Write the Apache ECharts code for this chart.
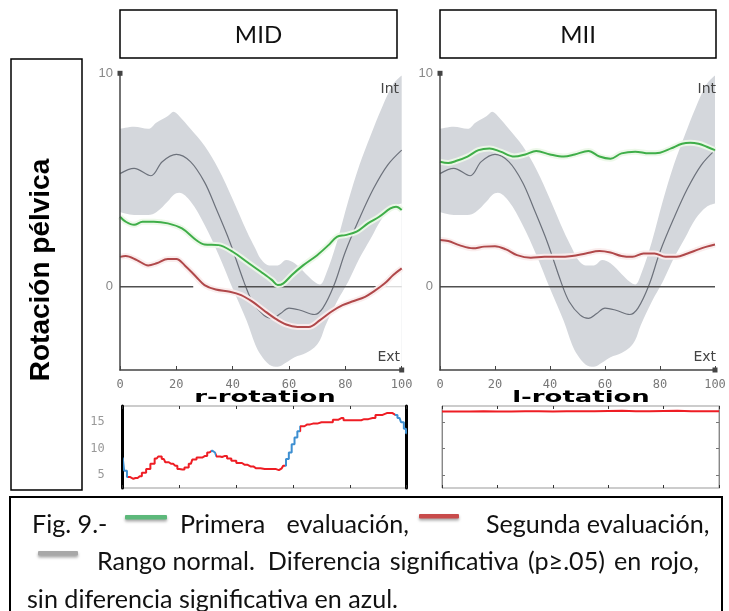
<!DOCTYPE html>
<html><head><meta charset="utf-8">
<script src="https://cdn.jsdelivr.net/npm/echarts@6/dist/echarts.min.js"></script>
<style>html,body{margin:0;padding:0;background:#fff}#c{width:729px;height:611px}</style>
</head><body><div id="c"></div>
<script>
// ---------- text ----------
const panelTitles = ['MID', 'MII'];
const rowLabel = 'Rotación pélvica';
const subTitles = ['r-rotation', 'l-rotation'];
const intLabel = 'Int', extLabel = 'Ext';
const captionFig = 'Fig. 9.-';
const captionPrimera = 'Primera evaluación,';
const captionSegunda = 'Segunda evaluación,';
const captionRango = 'Rango normal.';
const captionDif = 'Diferencia significativa (p≥.05) en rojo,';
const captionLast = 'sin diferencia significativa en azul.';

// ---------- axes ----------
const xTickStep = 20;
const topYLabels = [0, 10];
const botYLabels = [5, 10, 15];

// ---------- normal range (same for both sides) ----------
const normX     = [0, 5, 10, 13, 17, 19, 21, 25, 30, 35, 40, 45, 48, 50, 53, 56, 59, 62, 66, 69, 71, 73, 77, 81, 85, 89, 93, 97, 100];
const normUpper = [7.4, 7.5, 7.4, 7.7, 8.0, 8.2, 8.0, 7.4, 6.6, 5.5, 4.1, 2.6, 1.8, 1.3, 1.0, 1.0, 1.25, 1.1, 0.6, 0.23, 0.1, 0.55, 2.1, 4.0, 5.7, 7.1, 8.4, 9.5, 9.9];
const normLower = [3.5, 3.36, 3.36, 3.5, 4.0, 4.3, 4.4, 4.0, 2.9, 1.5, -0.08, -1.6, -2.7, -3.2, -3.65, -3.75, -3.55, -3.3, -3.1, -2.85, -2.5, -1.8, -0.7, 0.23, 1.33, 2.26, 3.2, 3.75, 3.9];
const meanX = [0, 5, 11, 15, 20, 25, 30, 34, 39, 44, 47, 51, 54, 57, 60, 64, 69, 72, 76, 80, 85, 90, 95, 100];
const meanY = [5.3, 5.55, 5.2, 5.86, 6.2, 5.86, 4.9, 3.7, 2.1, 0.23, -0.7, -1.33, -1.48, -1.25, -1.0, -1.1, -1.3, -1.0, 0.08, 1.64, 3.2, 4.6, 5.7, 6.4];

// ---------- MID ----------
const midGreenX = [0, 2, 5, 8, 12, 17, 22, 27, 30, 35, 40, 45, 50, 54, 56, 58, 61, 65, 70, 74, 77, 80, 84, 88, 92, 96, 98, 100];
const midGreenY = [3.28, 3.05, 2.9, 3.05, 3.05, 2.97, 2.73, 2.19, 1.98, 1.95, 1.64, 1.17, 0.7, 0.31, 0.08, 0.16, 0.55, 1.0, 1.48, 1.95, 2.34, 2.42, 2.58, 2.97, 3.28, 3.67, 3.75, 3.6];
const midRedX = [0, 2, 6, 10, 13, 17, 20, 23, 27, 30, 34, 39, 43, 47, 51, 55, 59, 63, 67, 71, 75, 79, 83, 87, 90, 94, 97, 100];
const midRedY = [1.4, 1.44, 1.25, 1.0, 1.1, 1.3, 1.3, 1.0, 0.47, 0.08, -0.13, -0.23, -0.39, -0.7, -1.1, -1.48, -1.77, -1.88, -1.88, -1.56, -1.17, -0.86, -0.67, -0.47, -0.23, 0.16, 0.55, 0.86];
const midZeroX = [0, 26, 34, 42, 91];
const midZeroY = [0, 0, '-', 0, 0];
const midZeroFaintX = [91, 100];
const midZeroFaintY = [0, 0];

// ---------- MII ----------
const miiGreenX = [0, 3, 6, 10, 14, 18, 22, 27, 31, 35, 40, 45, 49, 54, 58, 62, 66, 71, 76, 80, 84, 88, 91, 94, 97, 100];
const miiGreenY = [5.86, 5.8, 5.9, 6.1, 6.4, 6.48, 6.33, 6.1, 6.2, 6.36, 6.2, 6.1, 6.2, 6.36, 6.1, 6.0, 6.25, 6.33, 6.25, 6.28, 6.48, 6.7, 6.75, 6.7, 6.56, 6.4];
const miiRedX = [0, 3, 7, 12, 16, 20, 24, 28, 33, 38, 43, 48, 53, 58, 62, 66, 70, 74, 78, 82, 86, 90, 94, 97, 100];
const miiRedY = [2.19, 2.14, 1.95, 1.8, 1.88, 1.9, 1.75, 1.48, 1.36, 1.4, 1.4, 1.44, 1.56, 1.67, 1.6, 1.44, 1.4, 1.56, 1.56, 1.4, 1.4, 1.56, 1.75, 1.88, 1.98];
const miiZeroX = [0, 100];
const miiZeroY = [0, 0];

// ---------- significance (bottom) ----------
const rRotX = [0, 1, 2, 3, 4.5, 6, 7.5, 9, 10.5, 12, 13, 14.5, 15.5, 17, 18.5, 20, 21, 22.5, 24, 25, 27, 29, 30.5, 31.5, 32.5, 33.5, 35, 36, 37.5, 39, 41, 43, 45, 47, 50, 53, 55, 56, 57, 58, 59, 60, 61, 62, 63, 65, 67, 70, 73, 75, 77, 78.5, 80, 83, 85, 88, 90, 93, 95, 96, 97.5, 98.5, 99.5, 100];
const rRotY = [8.3, 5.8, 4.6, 4.25, 4.4, 4.75, 5.4, 6.1, 7.1, 8.1, 8.5, 8.0, 7.4, 7.1, 6.75, 6.1, 6.0, 6.4, 7.1, 7.9, 8.3, 8.6, 9.25, 9.6, 9.25, 8.5, 8.4, 8.6, 8.1, 7.7, 7.25, 6.9, 6.6, 6.25, 6.1, 6.1, 5.9, 6.25, 6.75, 8.0, 9.25, 10.8, 12.1, 13.3, 14.25, 14.6, 14.75, 15.0, 15.0, 15.5, 15.8, 15.4, 15.4, 15.4, 15.6, 15.8, 16.4, 16.75, 16.75, 16.4, 15.8, 15.0, 13.75, 12.9];
const rBlueRanges = [[0, 2], [31, 33], [57, 62.5], [96, 100]];
const lRotX = [0, 5, 10, 15, 20, 25, 30, 35, 40, 45, 50, 55, 60, 65, 70, 75, 80, 85, 90, 95, 100];
const lRotY = [17.05, 17.05, 17.05, 17.1, 17.05, 17.05, 17.1, 17.1, 17.05, 17.1, 17.1, 17.1, 17.15, 17.2, 17.1, 17.1, 17.15, 17.2, 17.1, 17.1, 17.1];

// ---------- colours ----------
const C = {
  band: '#d4d7dc', mean: '#6c717b', zero: '#505050',
  green: '#3fae49', greenHalo: 'rgba(236,248,232,0.95)',
  red: '#b0484a', redHalo: 'rgba(250,236,236,0.95)',
  sigRed: '#ee1d24', sigBlue: '#3d8fd1', axis: '#444', tickLabel: '#777'
};

const zip = (xs, ys) => xs.map((x, i) => [x, ys[i]]);
const chart = echarts.init(document.getElementById('c'), null, { renderer: 'canvas' });

const grids = [
  { left: 120, top: 73.3, width: 281.7, height: 296.7 },
  { left: 440, top: 73.3, width: 275, height: 296.7 },
  { left: 122.7, top: 406, width: 284, height: 82, show: true, borderColor: '#999', borderWidth: 1 },
  { left: 442, top: 406, width: 277, height: 82, show: true, borderColor: '#999', borderWidth: 1 }
];

const topX = gi => ({
  type: 'value', gridIndex: gi, min: 0, max: 100, interval: xTickStep, position: 'bottom', z: 6,
  axisLine: { onZero: false, lineStyle: { color: C.axis, width: 1.5 }, symbol: ['none', 'rect'], symbolSize: [5, 5] },
  axisTick: { inside: true, length: 4, lineStyle: { color: C.axis } },
  axisLabel: { color: C.tickLabel, fontFamily: 'DejaVu Sans Mono', fontSize: 12, margin: 9 },
  splitLine: { show: false }
});
const topY = gi => ({
  type: 'value', gridIndex: gi, min: -3.9, max: 10, z: 6,
  axisLine: { show: true, onZero: false, lineStyle: { color: C.axis, width: 1.5 }, symbol: ['none', 'rect'], symbolSize: [5, 5] },
  axisTick: { show: false },
  axisLabel: { customValues: topYLabels, fontFamily: 'Liberation Sans', fontSize: 13, margin: 7,
    color: v => (v === 0 ? '#222' : '#888') },
  splitLine: { show: false }
});
const botX = (gi, pos) => ({
  type: 'value', gridIndex: gi, min: 0, max: 100, interval: xTickStep, position: pos,
  axisLine: { show: false, onZero: false },
  axisTick: { inside: true, length: 3, lineStyle: { color: '#333' } },
  axisLabel: { show: false }, splitLine: { show: false }
});
const botY = (gi, pos, thick, labels) => ({
  type: 'value', gridIndex: gi, min: 2.5, max: 18.1, position: pos,
  axisLine: { show: true, onZero: false, lineStyle: { color: thick ? '#000' : '#888', width: thick ? 3 : 1 } },
  axisTick: { show: !thick, inside: true, length: 3, customValues: botYLabels, lineStyle: { color: '#777' } },
  axisLabel: { show: labels, customValues: botYLabels, color: '#999', fontFamily: 'DejaVu Sans Mono', fontSize: 12, margin: 18 },
  splitLine: { show: false }
});

const xAxis = [topX(0), topX(1), botX(2, 'top'), botX(3, 'top'), botX(2, 'bottom'), botX(3, 'bottom')];
const yAxis = [topY(0), topY(1), botY(2, 'left', true, true), botY(3, 'left', false, false), botY(2, 'right', true, false), botY(3, 'right', false, false)];

const series = [];
const line = (gi, data, color, width, extra) => Object.assign({
  type: 'line', xAxisIndex: gi, yAxisIndex: gi, data, symbol: 'none', smooth: 0.35,
  lineStyle: { color, width }, itemStyle: { color }, silent: true, animation: false
}, extra || {});

const panels = [
  { gi: 0, gx: midGreenX, gy: midGreenY, rx: midRedX, ry: midRedY, zx: midZeroX, zy: midZeroY, faint: true },
  { gi: 1, gx: miiGreenX, gy: miiGreenY, rx: miiRedX, ry: miiRedY, zx: miiZeroX, zy: miiZeroY, faint: false }
];
panels.forEach(p => {
  const gi = p.gi;
  series.push(line(gi, zip(normX, normUpper), C.band, 0, { lineStyle: { opacity: 0 }, areaStyle: { color: C.band, opacity: 1, origin: 'start' } }));
  series.push(line(gi, zip(normX, normLower), '#fff', 0, { lineStyle: { opacity: 0 }, areaStyle: { color: '#fff', opacity: 1, origin: 'start' } }));
  series.push(line(gi, zip(meanX, meanY), C.mean, 1.2));
  series.push(line(gi, zip(p.zx, p.zy), C.zero, 1.5, { smooth: false, connectNulls: false }));
  if (p.faint) series.push(line(gi, zip(midZeroFaintX, midZeroFaintY), '#cfcfcf', 1.2, { smooth: false }));
  series.push(line(gi, zip(p.gx, p.gy), C.greenHalo, 6));
  series.push(line(gi, zip(p.rx, p.ry), C.redHalo, 6));
  series.push(line(gi, zip(p.gx, p.gy), C.green, 2));
  series.push(line(gi, zip(p.rx, p.ry), C.red, 2));
});
const rSeriesIndex = series.length;
series.push({ type: 'line', xAxisIndex: 2, yAxisIndex: 2, data: zip(rRotX, rRotY), symbol: 'none', step: 'middle',
  lineStyle: { width: 2 }, silent: true, animation: false });
series.push(line(3, zip(lRotX, lRotY), C.sigRed, 2, { smooth: false }));

const pieces = [];
let cur = 0;
rBlueRanges.forEach(([a, b]) => {
  if (a > cur) pieces.push({ gt: cur, lt: a, color: C.sigRed });
  pieces.push({ gte: a, lte: b, color: C.sigBlue });
  cur = b;
});
if (cur < 100) pieces.push({ gt: cur, lte: 100, color: C.sigRed });

// ---------- caption layout ----------
const ctx = document.createElement('canvas').getContext('2d');
const capFam = 'Lato';
const mw = (t, s) => { ctx.font = s + 'px ' + capFam; return ctx.measureText(t).width; };
const line2Natural = captionRango + '  ' + captionDif;
const capSize = +Math.min(20 * 387 / mw(captionLast, 20), 20 * 592 / mw(line2Natural, 20)).toFixed(2);
const capFont = capSize + 'px ' + capFam;

const txt = (text, x, y, font, fill, align, valign, extra) => Object.assign({
  type: 'text', x, y, silent: true, z: 100,
  style: { text, font, fill: fill || '#111', align: align || 'left', verticalAlign: valign || 'middle', textAlign: align || 'left', textVerticalAlign: valign || 'middle' }
}, extra || {});
const justify = (phrase, x0, x1, y) => {
  const words = phrase.split(' ');
  const ws = words.map(w => mw(w, capSize));
  const total = ws.reduce((a, b) => a + b, 0);
  const gap = words.length > 1 ? Math.max(mw(' ', capSize), (x1 - x0 - total) / (words.length - 1)) : 0;
  let x = x0;
  return words.map((w, i) => { const el = txt(w, x, y, capFont, '#111'); x += ws[i] + gap; return el; });
};
const box = (x, y, w, h, lw) => ({ type: 'rect', z: 100, shape: { x, y, width: w, height: h }, silent: true, style: { fill: 'transparent', stroke: '#000', lineWidth: lw } });
const swatch = (x, y, w, color) => ({ type: 'rect', z: 100, shape: { x, y, width: w, height: 4.5, r: 1 }, silent: true,
  style: { fill: color, shadowBlur: 3, shadowColor: 'rgba(0,0,0,0.35)', shadowOffsetY: 2 } });

const difStart = 97 + mw(captionRango + '  ', capSize);
const graphic = [
  box(120, 10, 277, 48, 1.5), box(440, 10, 276, 48, 1.5),
  txt(panelTitles[0], 258.5, 35, '24px Lato', '#111', 'center'),
  txt(panelTitles[1], 578, 35, '24px Lato', '#111', 'center'),
  box(11, 59, 71, 431, 1.5),
  txt(rowLabel, 41, 270, 'bold 28px "Liberation Sans"', '#000', 'center', 'middle', { rotation: Math.PI / 2 }),
  txt(intLabel, 399, 89, '14px "DejaVu Sans"', '#444', 'right'),
  txt(extLabel, 400, 357, '14px "DejaVu Sans"', '#444', 'right'),
  txt(intLabel, 716, 89, '14px "DejaVu Sans"', '#444', 'right'),
  txt(extLabel, 716, 357, '14px "DejaVu Sans"', '#444', 'right'),
  txt(subTitles[0], 265, 398, 'bold 16px "DejaVu Sans"', '#000', 'center', 'middle', { scaleX: 1.62 }),
  txt(subTitles[1], 581, 398, 'bold 16px "DejaVu Sans"', '#000', 'center', 'middle', { scaleX: 1.62 }),
  { type: 'rect', z: 99, shape: { x: 10, y: 497, width: 712, height: 125 }, silent: true, style: { fill: '#fff', stroke: '#000', lineWidth: 2 } },
  txt(captionFig, 32, 525, capFont, '#111'),
  swatch(125, 515, 42, '#5cb87a'),
  ...justify(captionPrimera, 180, 409, 525),
  swatch(419, 514, 40, '#c84b4b'),
  ...justify(captionSegunda, 486, 699, 525),
  swatch(38, 551, 40, '#a8a8a8'),
  txt(captionRango, 97, 562, capFont, '#111'),
  ...justify(captionDif, difStart, 699, 562),
  txt(captionLast, 27, 600, capFont, '#111')
];

chart.setOption({
  animation: false,
  backgroundColor: '#fff',
  grid: grids,
  xAxis, yAxis, series,
  visualMap: [{ type: 'piecewise', show: false, dimension: 0, seriesIndex: rSeriesIndex, pieces }],
  graphic
});
</script>
</body></html>
